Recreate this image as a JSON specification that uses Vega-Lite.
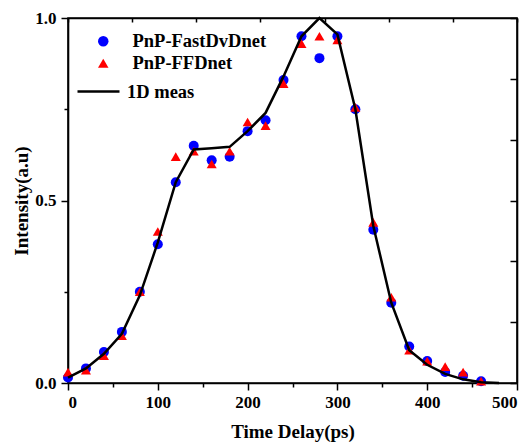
{
 "$schema": "https://vega.github.io/schema/vega-lite/v6.json",
 "width": 449, "height": 365,
 "autosize": {"type": "none"},
 "padding": {"left": 68, "top": 18, "right": 14, "bottom": 64},
 "background": "white",
 "config": {"font": "Liberation Serif", "view": {"stroke": "black", "strokeWidth": 1.6}, "axis": {"ticks": true, "tickWidth": 1.5, "tickColor": "black"}},
 "data": {"values": [
  {"t":0,"s":"PnP-FastDvDnet","v":0.015},{"t":20,"s":"PnP-FastDvDnet","v":0.04},{"t":40,"s":"PnP-FastDvDnet","v":0.085},{"t":60,"s":"PnP-FastDvDnet","v":0.14},{"t":80,"s":"PnP-FastDvDnet","v":0.25},{"t":100,"s":"PnP-FastDvDnet","v":0.38},{"t":120,"s":"PnP-FastDvDnet","v":0.55},{"t":140,"s":"PnP-FastDvDnet","v":0.65},{"t":160,"s":"PnP-FastDvDnet","v":0.61},{"t":180,"s":"PnP-FastDvDnet","v":0.62},{"t":200,"s":"PnP-FastDvDnet","v":0.69},{"t":220,"s":"PnP-FastDvDnet","v":0.72},{"t":240,"s":"PnP-FastDvDnet","v":0.83},{"t":260,"s":"PnP-FastDvDnet","v":0.95},{"t":280,"s":"PnP-FastDvDnet","v":0.89},{"t":300,"s":"PnP-FastDvDnet","v":0.95},{"t":320,"s":"PnP-FastDvDnet","v":0.75},{"t":340,"s":"PnP-FastDvDnet","v":0.42},{"t":360,"s":"PnP-FastDvDnet","v":0.22},{"t":380,"s":"PnP-FastDvDnet","v":0.10},{"t":400,"s":"PnP-FastDvDnet","v":0.06},{"t":420,"s":"PnP-FastDvDnet","v":0.03},{"t":440,"s":"PnP-FastDvDnet","v":0.02},{"t":460,"s":"PnP-FastDvDnet","v":0.005},
  {"t":0,"s":"PnP-FFDnet","v":0.03},{"t":20,"s":"PnP-FFDnet","v":0.035},{"t":40,"s":"PnP-FFDnet","v":0.075},{"t":60,"s":"PnP-FFDnet","v":0.13},{"t":80,"s":"PnP-FFDnet","v":0.25},{"t":100,"s":"PnP-FFDnet","v":0.415},{"t":120,"s":"PnP-FFDnet","v":0.62},{"t":140,"s":"PnP-FFDnet","v":0.635},{"t":160,"s":"PnP-FFDnet","v":0.60},{"t":180,"s":"PnP-FFDnet","v":0.635},{"t":200,"s":"PnP-FFDnet","v":0.715},{"t":220,"s":"PnP-FFDnet","v":0.705},{"t":240,"s":"PnP-FFDnet","v":0.82},{"t":260,"s":"PnP-FFDnet","v":0.93},{"t":280,"s":"PnP-FFDnet","v":0.95},{"t":300,"s":"PnP-FFDnet","v":0.94},{"t":320,"s":"PnP-FFDnet","v":0.755},{"t":340,"s":"PnP-FFDnet","v":0.44},{"t":360,"s":"PnP-FFDnet","v":0.235},{"t":380,"s":"PnP-FFDnet","v":0.09},{"t":400,"s":"PnP-FFDnet","v":0.06},{"t":420,"s":"PnP-FFDnet","v":0.045},{"t":440,"s":"PnP-FFDnet","v":0.03},{"t":460,"s":"PnP-FFDnet","v":0.005},
  {"t":0,"s":"1D meas","v":0.015},{"t":20,"s":"1D meas","v":0.04},{"t":40,"s":"1D meas","v":0.08},{"t":60,"s":"1D meas","v":0.135},{"t":80,"s":"1D meas","v":0.24},{"t":100,"s":"1D meas","v":0.385},{"t":120,"s":"1D meas","v":0.55},{"t":140,"s":"1D meas","v":0.64},{"t":160,"s":"1D meas","v":0.643},{"t":180,"s":"1D meas","v":0.647},{"t":200,"s":"1D meas","v":0.69},{"t":220,"s":"1D meas","v":0.74},{"t":240,"s":"1D meas","v":0.84},{"t":260,"s":"1D meas","v":0.95},{"t":280,"s":"1D meas","v":1.0},{"t":300,"s":"1D meas","v":0.955},{"t":320,"s":"1D meas","v":0.75},{"t":340,"s":"1D meas","v":0.43},{"t":360,"s":"1D meas","v":0.22},{"t":380,"s":"1D meas","v":0.09},{"t":400,"s":"1D meas","v":0.05},{"t":420,"s":"1D meas","v":0.025},{"t":440,"s":"1D meas","v":0.01},{"t":460,"s":"1D meas","v":0.002},{"t":480,"s":"1D meas","v":0.0}
 ]},
 "resolve": {"scale": {"x": "independent", "y": "independent", "color": "independent", "shape": "independent"}},
 "layer": [
  {
   "transform": [{"filter": "datum.s !== '1D meas'"}],
   "mark": {"type": "point", "filled": true, "opacity": 1, "size": 100},
   "encoding": {
    "x": {"field": "t", "type": "quantitative", "scale": {"domain": [0, 500], "nice": false},
      "axis": {"orient": "bottom", "values": [0,50,100,150,200,250,300,350,400,450,500], "labelExpr": "datum.value % 100 === 0 ? datum.label : ''", "grid": false, "domainColor": "black", "domainWidth": 1.6, "ticks": true, "tickSize": {"condition": {"test": "datum.value % 100 === 0", "value": 7}, "value": 4}, "tickColor": "black", "tickWidth": 1.5, "labelFont": "Liberation Serif", "labelFontSize": 17, "labelFontWeight": "bold", "labelColor": "black", "labelPadding": 4, "title": "Time Delay(ps)", "titleFont": "Liberation Serif", "titleFontSize": 19, "titleFontWeight": "bold", "titleColor": "black", "titlePadding": 12}},
    "y": {"field": "v", "type": "quantitative", "scale": {"domain": [0, 1], "nice": false},
      "axis": {"orient": "left", "values": [0,0.25,0.5,0.75,1], "labelExpr": "datum.value % 0.5 === 0 ? format(datum.value, '.1f') : ''", "grid": false, "domainColor": "black", "domainWidth": 1.6, "ticks": true, "tickSize": {"condition": {"test": "datum.value % 0.5 === 0", "value": 7}, "value": 4}, "tickColor": "black", "tickWidth": 1.5, "labelFont": "Liberation Serif", "labelFontSize": 17, "labelFontWeight": "bold", "labelColor": "black", "labelPadding": 5, "title": "Intensity(a.u)", "titleFont": "Liberation Serif", "titleFontSize": 19, "titleFontWeight": "bold", "titleColor": "black", "titlePadding": 3}},
    "color": {"field": "s", "type": "nominal", "sort": null,
      "scale": {"domain": ["PnP-FastDvDnet", "PnP-FFDnet"], "range": ["#0000ff", "#ff0000"]},
      "legend": {"title": null, "orient": "none", "legendX": 26, "legendY": 14, "labelFont": "Liberation Serif", "labelFontSize": 18.5, "labelFontWeight": "bold", "labelColor": "black", "labelOffset": 20, "rowPadding": 3, "symbolSize": 110}},
    "shape": {"field": "s", "type": "nominal", "sort": null,
      "scale": {"domain": ["PnP-FastDvDnet", "PnP-FFDnet"], "range": ["circle", "triangle-up"]},
      "legend": {"title": null, "orient": "none", "legendX": 26, "legendY": 14}}
   }
  },
  {
   "transform": [{"filter": "datum.s === '1D meas'"}],
   "mark": {"type": "line", "strokeWidth": 2.5},
   "encoding": {
    "x": {"field": "t", "type": "quantitative", "scale": {"domain": [0, 500], "nice": false}, "axis": null},
    "y": {"field": "v", "type": "quantitative", "scale": {"domain": [0, 1], "nice": false}, "axis": null},
    "color": {"field": "s", "type": "nominal", "scale": {"domain": ["1D meas"], "range": ["#000000"]},
      "legend": {"title": null, "orient": "none", "legendX": 8, "legendY": 51, "labelFont": "Liberation Serif", "labelFontSize": 18.5, "labelFontWeight": "bold", "labelColor": "black", "labelOffset": 6, "symbolSize": 1764, "symbolStrokeWidth": 2.5, "symbolType": "stroke"}}
   }
  },
  {
   "transform": [{"filter": "datum.s === '1D meas'"}],
   "mark": {"type": "point", "opacity": 0},
   "encoding": {
    "x": {"field": "t", "type": "quantitative", "scale": {"domain": [0, 7], "nice": false}, "axis": {"orient": "top", "values": [0,1,2,3,4,5,6,7], "labels": false, "title": null, "grid": false, "domainColor": "black", "domainWidth": 1.6, "ticks": true, "tickSize": -4, "tickColor": "black", "tickWidth": 1.5}},
    "y": {"field": "v", "type": "quantitative", "scale": {"domain": [0, 6], "nice": false}, "axis": {"orient": "right", "values": [0,1,2,3,4,5,6], "labels": false, "title": null, "grid": false, "domainColor": "black", "domainWidth": 1.6, "ticks": true, "tickSize": -7, "tickColor": "black", "tickWidth": 1.5}}
   }
  }
 ]
}
